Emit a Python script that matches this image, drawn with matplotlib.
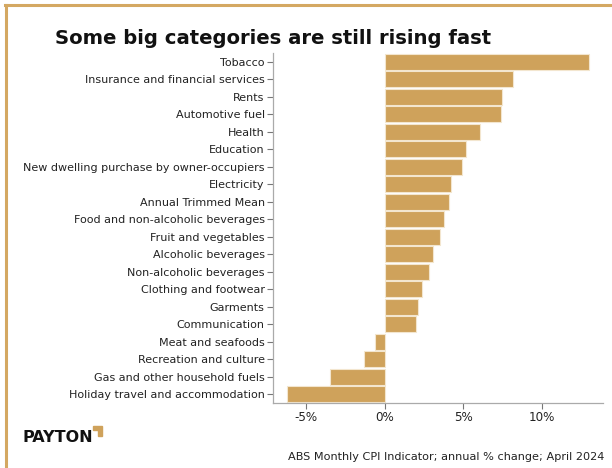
import matplotlib.pyplot as plt
from matplotlib.lines import Line2D
from matplotlib.patches import Polygon

categories = ['Tobacco', 'Insurance and financial services', 'Rents', 'Automotive fuel',
              'Health', 'Education', 'New dwelling purchase by owner-occupiers',
              'Electricity', 'Annual Trimmed Mean', 'Food and non-alcoholic beverages',
              'Fruit and vegetables', 'Alcoholic beverages', 'Non-alcoholic beverages',
              'Clothing and footwear', 'Garments', 'Communication', 'Meat and seafoods',
              'Recreation and culture', 'Gas and other household fuels',
              'Holiday travel and accommodation']
values = [13.0, 8.2, 7.5, 7.4, 6.1, 5.2, 4.9, 4.2, 4.1, 3.8,
          3.5, 3.1, 2.8, 2.4, 2.1, 2.0, -0.6, -1.3, -3.5, -6.2]
xticks = [-5, 0, 5, 10]
xtick_labels = ['-5%', '0%', '5%', '10%']

gold = '#CFA25B'
W, H = 612, 468

fig = plt.figure(figsize=(6.12, 4.68), dpi=100)
ax = fig.add_axes([273 / W, 1 - 403 / H, (603 - 273) / W, (403 - 53) / H])

ypos = list(range(len(categories)))
ax.barh(ypos, values, height=0.92, color=gold, edgecolor='#F3E6CF', linewidth=0.8)
ax.set_yticks(ypos)
ax.set_yticklabels(categories, fontsize=8.0, color='#222222')
ax.set_ylim(len(categories) - 0.5, -0.5)
ax.set_xlim(-7.1, 13.9)
ax.set_xticks(xticks)
ax.set_xticklabels(xtick_labels, fontsize=8.6, color='#333333')

for s in ['top', 'right']:
    ax.spines[s].set_visible(False)
for s in ['left', 'bottom']:
    ax.spines[s].set_color('#AAAAAA')
    ax.spines[s].set_linewidth(0.9)
ax.tick_params(axis='both', colors='#777777', length=4, width=0.8, pad=2)
ax.tick_params(axis='both', labelcolor='#222222')

# x axis caption, right-aligned to the axes
fig.text(604 / W, 1 - 457 / H, 'ABS Monthly CPI Indicator; annual % change; April 2024',
         ha='right', va='center', fontsize=8.15, color='#222222')

# title
fig.text(55 / W, 1 - 38 / H, 'Some big categories are still rising fast',
         ha='left', va='center', fontsize=14.1, fontweight='bold', color='#111111')

# frame lines top and left
fig.add_artist(Line2D([5 / W, 1], [1 - 5 / H, 1 - 5 / H], color='#D4A862', linewidth=2.2))
fig.add_artist(Line2D([6 / W, 6 / W], [0, 1 - 5 / H], color='#D4A862', linewidth=2.2))

# logo
fig.text(23 / W, 1 - 438 / H, 'PAYTON', ha='left', va='center', fontsize=11.5,
         fontweight='bold', color='#111111')
fig.add_artist(Polygon([[93 / W, 1 - 426 / H], [102 / W, 1 - 426 / H], [102 / W, 1 - 436 / H],
                        [98 / W, 1 - 436 / H], [98 / W, 1 - 430 / H], [93 / W, 1 - 430 / H]],
                       closed=True, transform=fig.transFigure, color=gold))

fig.savefig('out.png', dpi=100)
